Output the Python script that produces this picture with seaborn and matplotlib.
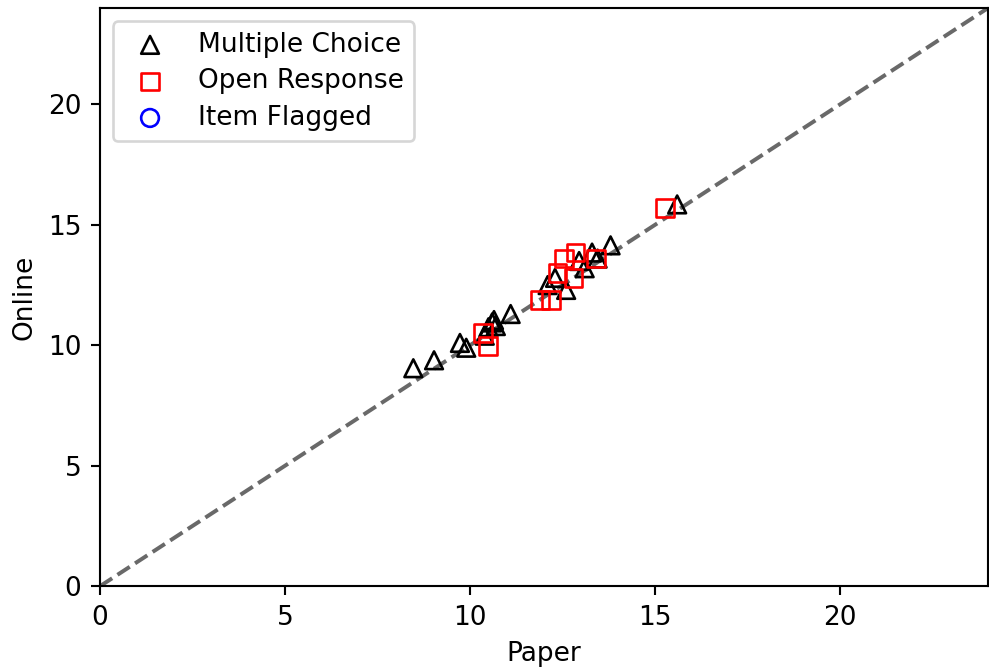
import matplotlib
matplotlib.use("Agg")
import matplotlib.pyplot as plt
import numpy as np
import pandas as pd
import seaborn as sns

# multiple choice items (paper, online)
mc_paper = [8.47, 9.03, 9.73, 9.9, 10.4, 10.5, 10.6, 10.65, 10.7, 11.1,
            12.1, 12.3, 12.6, 12.95, 13.1, 13.3, 13.45, 13.8, 15.6]
mc_online = [9.05, 9.38, 10.1, 9.9, 10.4, 10.75, 10.95, 11.05, 10.8, 11.3,
             12.5, 12.8, 12.3, 13.5, 13.2, 13.85, 13.6, 14.15, 15.85]

# open response items (paper, online)
or_paper = [10.35, 10.48, 11.9, 12.2, 12.37, 12.8, 12.55, 12.85, 13.4, 15.27]
or_online = [10.5, 9.96, 11.87, 11.87, 13.0, 12.8, 13.6, 13.85, 13.6, 15.7]

mc = pd.DataFrame({"Paper": mc_paper, "Online": mc_online})
opn = pd.DataFrame({"Paper": or_paper, "Online": or_online})

DPI = 190
fig = plt.figure(figsize=(989 / DPI, 670 / DPI), dpi=DPI)
ax = fig.add_axes([0.101, 0.125, 0.898, 0.863])

lim = 24
ax.plot([0, lim], [0, lim], ls="--", color="dimgray", lw=1.5, zorder=1)

sns.scatterplot(data=mc, x="Paper", y="Online", marker="^", s=45,
                facecolors="none", edgecolor="black", linewidth=1.0,
                label="Multiple Choice", ax=ax, zorder=3)
sns.scatterplot(data=opn, x="Paper", y="Online", marker="s", s=45,
                facecolors="none", edgecolor="red", linewidth=1.0,
                label="Open Response", ax=ax, zorder=3)
ax.scatter([], [], marker="o", s=45, facecolors="none", edgecolors="blue",
           label="Item Flagged")

ax.set_xlim(0, lim)
ax.set_ylim(0, lim)
ax.set_xticks([0, 5, 10, 15, 20])
ax.set_yticks([0, 5, 10, 15, 20])
ax.set_xlabel("Paper")
ax.set_ylabel("Online")
ax.legend(loc="upper left", labelspacing=0.4)

fig.savefig("out.png", dpi=DPI)
